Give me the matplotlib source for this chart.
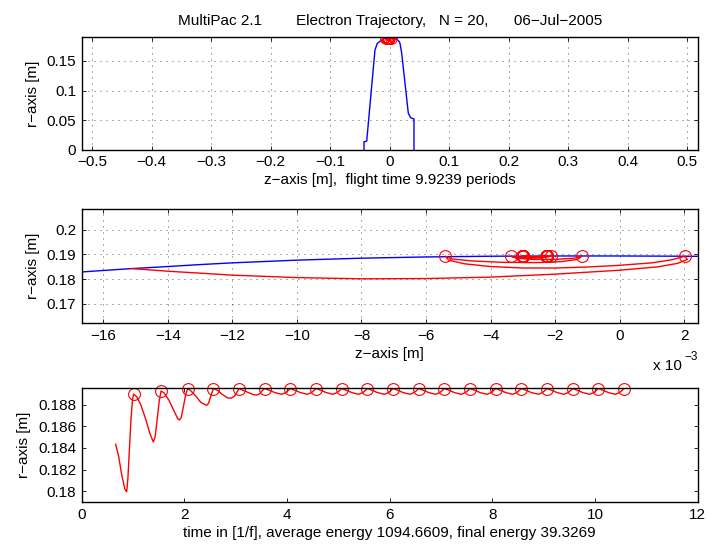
import matplotlib
matplotlib.use('Agg')
import matplotlib.pyplot as plt

plt.rcParams['font.family'] = ['Liberation Sans', 'DejaVu Sans']
plt.rcParams['font.size'] = 11
plt.rcParams['axes.unicode_minus'] = True

# cavity wall profile (z [m], r [m])
wall_z = [-0.0431, -0.0431, -0.0386, -0.0300, -0.0247, -0.0207, -0.0185, -0.01667,
          -0.0152, -0.0140, -0.0130, -0.0120, -0.0100, -0.0080, -0.0060, -0.0040,
          -0.0020, 0.0000, 0.0020, 0.0050, 0.0080, 0.0118, 0.0155, 0.0173, 0.0202,
          0.0313, 0.0353, 0.0408, 0.0408]
wall_r = [0.0, 0.0135, 0.0145, 0.110, 0.1687, 0.1800, 0.1815, 0.1829,
          0.1842, 0.1851, 0.1859, 0.1866, 0.1877, 0.1885, 0.1890, 0.1893,
          0.1894, 0.1894, 0.1893, 0.1890, 0.1885, 0.1872, 0.1835, 0.1800, 0.1630,
          0.0616, 0.0540, 0.0520, 0.0]

# electron trajectory in the (z, r) plane
traj_z = [-0.01515, -0.0140, -0.0120, -0.0100, -0.0080, -0.0060, -0.0040, -0.0020,
          0.0000, 0.0012, 0.0018, 0.0021, 0.00203,
          0.0016, 0.0010, 0.0000, -0.0010, -0.0020, -0.0030, -0.0040, -0.0048,
          -0.0053, -0.0054,
          -0.0052, -0.0046, -0.0036, -0.0026, -0.0018, -0.0013, -0.00117,
          -0.0014, -0.0020, -0.0027, -0.0032, -0.00337,
          -0.0032, -0.0028, -0.0024, -0.00213,
          -0.0026, -0.00302, -0.0026, -0.00224, -0.0026, -0.00298, -0.0026, -0.00227,
          -0.0026, -0.00300, -0.0026, -0.00225, -0.0026, -0.00299, -0.0026, -0.00226,
          -0.0026, -0.00300, -0.0026, -0.00225, -0.0026, -0.00299, -0.0026, -0.00226,
          -0.0026, -0.00300, -0.0026, -0.00225, -0.0026, -0.00300]
traj_r = [0.1843, 0.1832, 0.1816, 0.1806, 0.1801, 0.1802, 0.1808, 0.1820,
          0.1836, 0.1850, 0.1864, 0.1880, 0.1893,
          0.1878, 0.1866, 0.1856, 0.1849, 0.1845, 0.1845, 0.1851, 0.1862,
          0.1877, 0.1893,
          0.1882, 0.1874, 0.1868, 0.1867, 0.1871, 0.1880, 0.1893,
          0.1885, 0.1880, 0.1880, 0.1885, 0.1893,
          0.1888, 0.1886, 0.1887, 0.1893,
          0.1888, 0.1893, 0.1889, 0.1893, 0.1889, 0.1893, 0.1889, 0.1893,
          0.1889, 0.1893, 0.1889, 0.1893, 0.1889, 0.1893, 0.1889, 0.1893,
          0.1889, 0.1893, 0.1889, 0.1893, 0.1889, 0.1893, 0.1889, 0.1893,
          0.1889, 0.1893, 0.1889, 0.1893, 0.1889, 0.1893]

# impact points
hit_z = [0.00203, -0.0054, -0.00117, -0.00337, -0.00213, -0.00302, -0.00224,
         -0.00298, -0.00227, -0.00300, -0.00225, -0.00299, -0.00226, -0.00300,
         -0.00225, -0.00299, -0.00226, -0.00300, -0.00225, -0.00300]
hit_r = [0.1893] * 20

# r versus time
time_t = [0.662, 0.72, 0.78, 0.84, 0.877, 0.90, 0.93, 0.96, 0.99, 1.013,
          1.07, 1.15, 1.25, 1.33, 1.395, 1.43, 1.47, 1.51, 1.545,
          1.60, 1.70, 1.80, 1.87, 1.902, 1.94, 1.98, 2.03, 2.065,
          2.12, 2.22, 2.32, 2.40, 2.435, 2.47, 2.51, 2.565,
          2.65, 2.75, 2.85, 2.92, 2.98, 3.02, 3.065,
          3.15, 3.25, 3.35, 3.41, 3.47, 3.52, 3.565,
          3.665, 3.765, 3.895, 3.975, 4.025, 4.065,
          4.165, 4.265, 4.395, 4.475, 4.525, 4.565,
          4.665, 4.765, 4.895, 4.975, 5.025, 5.065,
          5.165, 5.265, 5.395, 5.475, 5.525, 5.565,
          5.665, 5.765, 5.895, 5.975, 6.025, 6.065,
          6.165, 6.265, 6.395, 6.475, 6.525, 6.565,
          6.665, 6.765, 6.895, 6.975, 7.025, 7.065,
          7.165, 7.265, 7.395, 7.475, 7.525, 7.565,
          7.665, 7.765, 7.895, 7.975, 8.025, 8.065,
          8.165, 8.265, 8.395, 8.475, 8.525, 8.565,
          8.665, 8.765, 8.895, 8.975, 9.025, 9.065,
          9.165, 9.265, 9.395, 9.475, 9.525, 9.565,
          9.665, 9.765, 9.895, 9.975, 10.025, 10.065,
          10.165, 10.265, 10.395, 10.475, 10.525, 10.565]
time_r = [0.18433, 0.1832, 0.1815, 0.1802, 0.17995, 0.1812, 0.1840, 0.1866, 0.1885, 0.18897,
          0.18873, 0.1880, 0.1866, 0.1853, 0.18454, 0.1850, 0.1866, 0.1883, 0.18925,
          0.1891, 0.1884, 0.1874, 0.1867, 0.18657, 0.1868, 0.1878, 0.1890, 0.18946,
          0.1893, 0.1888, 0.1882, 0.1880, 0.18793, 0.1881, 0.1887, 0.18948,
          0.1893, 0.1889, 0.1886, 0.1886, 0.1888, 0.1891, 0.18948,
          0.1893, 0.1891, 0.1889, 0.18888, 0.1890, 0.1893, 0.18948,
          0.1893, 0.1891, 0.18895, 0.1891, 0.1893, 0.18948,
          0.1893, 0.1891, 0.18895, 0.1891, 0.1893, 0.18948,
          0.1893, 0.1891, 0.18895, 0.1891, 0.1893, 0.18948,
          0.1893, 0.1891, 0.18895, 0.1891, 0.1893, 0.18948,
          0.1893, 0.1891, 0.18895, 0.1891, 0.1893, 0.18948,
          0.1893, 0.1891, 0.18895, 0.1891, 0.1893, 0.18948,
          0.1893, 0.1891, 0.18895, 0.1891, 0.1893, 0.18948,
          0.1893, 0.1891, 0.18895, 0.1891, 0.1893, 0.18948,
          0.1893, 0.1891, 0.18895, 0.1891, 0.1893, 0.18948,
          0.1893, 0.1891, 0.18895, 0.1891, 0.1893, 0.18948,
          0.1893, 0.1891, 0.18895, 0.1891, 0.1893, 0.18948,
          0.1893, 0.1891, 0.18895, 0.1891, 0.1893, 0.18948,
          0.1893, 0.1891, 0.18895, 0.1891, 0.1893, 0.18948,
          0.1893, 0.1891, 0.18895, 0.1891, 0.1893, 0.18948]
hit_t = [1.013, 1.545, 2.065, 2.565, 3.065, 3.565, 4.065, 4.565, 5.065, 5.565,
         6.065, 6.565, 7.065, 7.565, 8.065, 8.565, 9.065, 9.565, 10.065, 10.565]
hit_tr = [0.18897, 0.18925, 0.18946] + [0.18948] * 17

# tick labels
top_xticks = [-0.5, -0.4, -0.3, -0.2, -0.1, 0, 0.1, 0.2, 0.3, 0.4, 0.5]
top_xlabels = ['\u22120.5', '\u22120.4', '\u22120.3', '\u22120.2', '\u22120.1', '0',
               '0.1', '0.2', '0.3', '0.4', '0.5']
top_yticks = [0, 0.05, 0.1, 0.15]
top_ylabels = ['0', '0.05', '0.1', '0.15']
mid_xticks = [-0.016, -0.014, -0.012, -0.010, -0.008, -0.006, -0.004, -0.002, 0, 0.002]
mid_xlabels = ['\u221216', '\u221214', '\u221212', '\u221210', '\u22128', '\u22126',
               '\u22124', '\u22122', '0', '2']
mid_yticks = [0.17, 0.18, 0.19, 0.2]
mid_ylabels = ['0.17', '0.18', '0.19', '0.2']
bot_xticks = [0, 2, 4, 6, 8, 10, 12]
bot_yticks = [0.18, 0.182, 0.184, 0.186, 0.188]
bot_ylabels = ['0.18', '0.182', '0.184', '0.186', '0.188']

LW = 1.0
MS = 8.5
FS = 11


def style(ax, grid=True):
    ax.tick_params(direction='in', top=True, right=True, length=3, width=0.6,
                   pad=4, labelsize=FS)
    for s in ax.spines.values():
        s.set_linewidth(1.0)
    if grid:
        ax.grid(True, color='0.25', linestyle=(0, (1.2, 6)), linewidth=0.6)
        ax.set_axisbelow(True)


fig = plt.figure(figsize=(7.08, 5.49), dpi=100)

ax1 = fig.add_axes([0.1154, 0.7273, 0.870, 0.2047])
ax1.plot(wall_z, wall_r, color='b', lw=LW)
ax1.plot(traj_z, traj_r, color='r', lw=LW)
ax1.plot(hit_z, hit_r, 'o', ms=MS, mfc='none', mec='r', mew=0.8)
ax1.set_xlim(-0.5174, 0.5174)
ax1.set_ylim(0, 0.19)
ax1.set_xticks(top_xticks)
ax1.set_xticklabels(top_xlabels)
ax1.set_yticks(top_yticks)
ax1.set_yticklabels(top_ylabels)
ax1.set_ylabel('r\u2212axis [m]', labelpad=5)
ax1.set_xlabel('z\u2212axis [m],  flight time 9.9239 periods', labelpad=3)
ax1.set_title('MultiPac 2.1        Electron Trajectory,   N = 20,      06\u2212Jul\u22122005',
              fontsize=FS, pad=9)
style(ax1)

ax2 = fig.add_axes([0.1154, 0.4111, 0.870, 0.2077])
ax2.plot(wall_z, wall_r, color='b', lw=LW)
ax2.plot(traj_z, traj_r, color='r', lw=LW)
ax2.plot(hit_z, hit_r, 'o', ms=MS, mfc='none', mec='r', mew=0.8)
ax2.set_xlim(-0.01667, 0.00242)
ax2.set_ylim(0.162, 0.2084)
ax2.set_xticks(mid_xticks)
ax2.set_xticklabels(mid_xlabels)
ax2.set_yticks(mid_yticks)
ax2.set_yticklabels(mid_ylabels)
ax2.set_ylabel('r\u2212axis [m]', labelpad=5)
ax2.set_xlabel('z\u2212axis [m]', labelpad=3)
style(ax2)
fig.text(653 / 708, 1 - 366 / 549, 'x 10', fontsize=FS, ha='left', va='center')
fig.text(684 / 708, 1 - 357 / 549, '\u22123', fontsize=8.5, ha='left', va='center')

ax3 = fig.add_axes([0.1154, 0.0856, 0.870, 0.2071])
ax3.plot(time_t, time_r, color='r', lw=LW)
ax3.plot(hit_t, hit_tr, 'o', ms=MS, mfc='none', mec='r', mew=0.8, clip_on=False)
ax3.set_xlim(0, 12)
ax3.set_ylim(0.179, 0.1895)
ax3.set_xticks(bot_xticks)
ax3.set_yticks(bot_yticks)
ax3.set_yticklabels(bot_ylabels)
ax3.set_ylabel('r\u2212axis [m]', labelpad=5)
ax3.set_xlabel('time in [1/f], average energy 1094.6609, final energy 39.3269', labelpad=3)
style(ax3, grid=False)

fig.savefig('out.png', dpi=100)
